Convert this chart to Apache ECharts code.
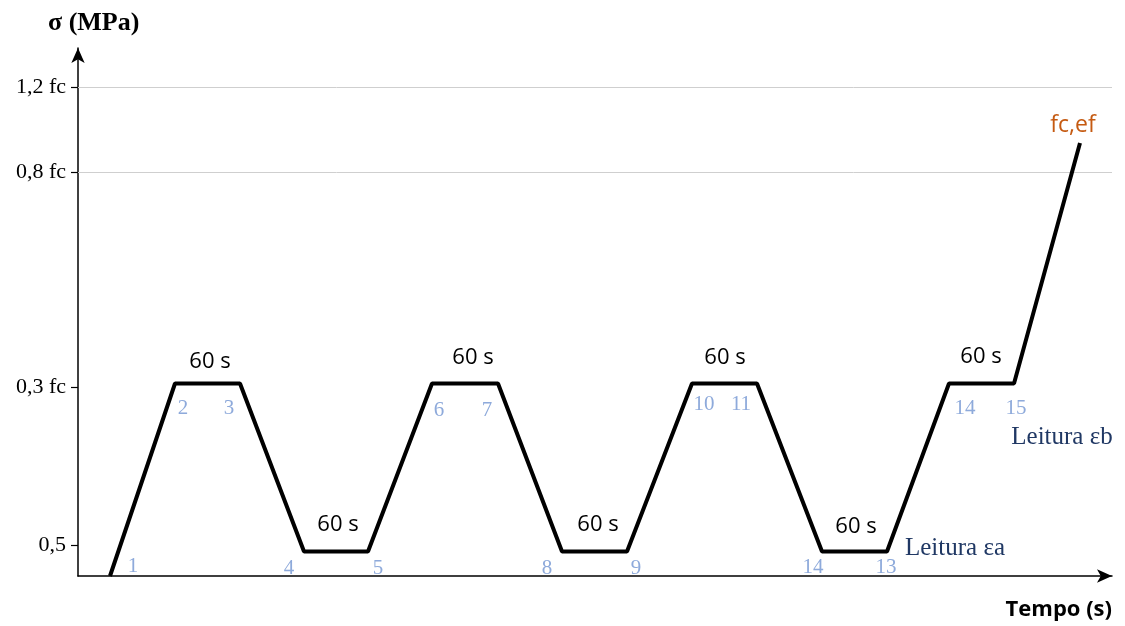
<!DOCTYPE html>
<html>
<head>
<meta charset="utf-8">
<script src="https://cdn.jsdelivr.net/npm/echarts@6/dist/echarts.min.js"></script>
<style>
  html, body { margin: 0; padding: 0; background: #fff; }
  #chart { width: 1125px; height: 626px; }
</style>
</head>
<body>
<div id="chart"></div>
<script>
// esquema de carregamento (unidades arbitrárias do desenho)
const tempo = [32, 97, 162, 226, 290, 354, 420, 484, 549, 614, 679, 744, 809, 871, 936, 1002];
const tensao = [0, 192.5, 192.5, 24.5, 24.5, 192.5, 192.5, 24.5, 24.5, 192.5, 192.5, 24.5, 24.5, 192.5, 192.5, 433];

// níveis do eixo y
const niveisY = [31, 189, 404, 489];
const rotulosY = ['0,5', '0,3 fc', '0,8 fc', '1,2 fc'];
const linhasGrade = [404, 489];

// números das leituras
const passos = ['1', '2', '3', '4', '5', '6', '7', '8', '9', '10', '11', '14', '13', '14', '15'];
const passosX = [55, 105, 151, 211, 300, 361, 409, 469, 558, 626, 663, 735, 808, 887, 938];
const passosY = [10, 168, 168, 8, 8, 166, 166, 8, 8, 172, 172, 9, 9, 168, 168];

// patamares de 60 s
const patamarX = [132, 395, 647, 903, 260, 520, 778];
const patamarY = [214, 218, 218, 219, 51, 51, 49];

const leituras = ['Leitura εb', 'Leitura εa'];
const leiturasX = [984, 877];
const leiturasY = [139, 28];

const ruptura = { nome: 'fc,ef', x: 995, y: 451 };

const serif = '"Liberation Serif", "DejaVu Serif", serif';
const sans = '"Open Sans", "Noto Sans", sans-serif';

function pontos(xs, ys, nomes) {
  return xs.map((x, i) => ({ value: [x, ys[i]], name: nomes ? nomes[i] : '60 s' }));
}

function rotulos(data, cor, fonte, tam) {
  return {
    type: 'scatter', symbolSize: 0, data: data,
    itemStyle: { opacity: 1 },
    label: { show: true, position: 'inside', formatter: '{b}', color: cor, fontFamily: fonte, fontSize: tam }
  };
}

const chart = echarts.init(document.getElementById('chart'));
chart.setOption({
  animation: false,
  grid: { left: 78, right: 13, top: 48, bottom: 50 },
  xAxis: {
    type: 'value', min: 0, max: 1034,
    axisLine: { show: true, lineStyle: { color: '#000', width: 1.5 }, symbol: ['none', 'arrow'], symbolSize: [10, 15] },
    axisTick: { show: false }, axisLabel: { show: false }, splitLine: { show: false }
  },
  yAxis: {
    type: 'value', min: 0, max: 528,
    axisLine: { show: true, lineStyle: { color: '#000', width: 1.5 }, symbol: ['none', 'arrow'], symbolSize: [10, 15] },
    axisTick: { show: true, length: 7, lineStyle: { color: '#000', width: 1.2 }, customValues: niveisY },
    axisLabel: {
      customValues: niveisY, margin: 12,
      color: '#000', fontFamily: serif, fontSize: 22,
      formatter: v => rotulosY[niveisY.indexOf(v)] || ''
    },
    splitLine: { show: false }
  },
  series: [
    {
      type: 'line',
      data: tempo.map((t, i) => [t, tensao[i]]),
      symbol: 'none',
      lineStyle: { color: '#000', width: 4 },
      z: 5,
      markLine: {
        silent: true, symbol: 'none', label: { show: false },
        lineStyle: { color: '#cfcfcf', width: 1, type: 'solid', opacity: 1 },
        data: linhasGrade.map(v => ({ yAxis: v }))
      }
    },
    rotulos(pontos(passosX, passosY, passos), '#8eaadb', serif, 21),
    rotulos(pontos(patamarX, patamarY), '#000', sans, 22),
    rotulos(pontos(leiturasX, leiturasY, leituras), '#203864', serif, 25),
    rotulos([{ value: [ruptura.x, ruptura.y], name: ruptura.nome }], '#c55a11', sans, 23)
  ],
  graphic: [
    { type: 'text', left: 48, top: 10, style: { text: 'σ (MPa)', font: 'bold 26px ' + serif, fill: '#000' } },
    { type: 'text', right: 13, top: 599, style: { text: 'Tempo (s)', font: 'bold 22px ' + sans, fill: '#000' } }
  ]
});
</script>
</body>
</html>
